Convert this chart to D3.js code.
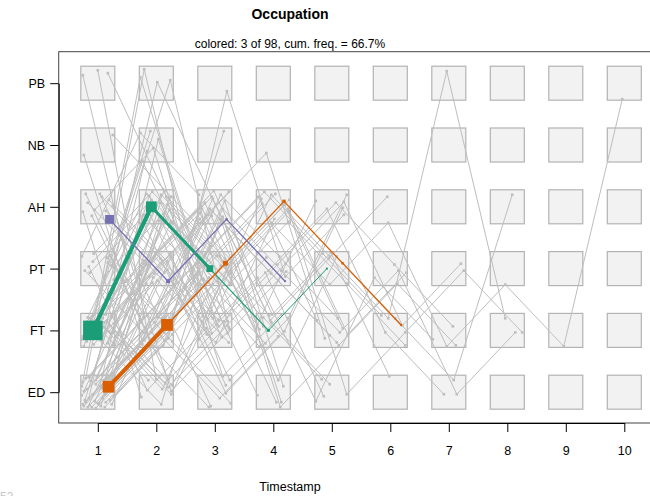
<!DOCTYPE html>
<html>
<head>
<meta charset="utf-8">
<script src="https://cdn.jsdelivr.net/npm/d3@7"></script>
<style>
  body { margin: 0; background: #fff; }
  svg { font-family: "Liberation Sans", Arial, sans-serif; }
</style>
</head>
<body>
<div id="chart"></div>
<script>
    // states, bottom to top
    var states = ["ED", "FT", "PT", "AH", "NB", "PB"];
    var codes = {E: "ED", F: "FT", P: "PT", A: "AH", N: "NB", B: "PB"};
    var timestamps = [1, 2, 3, 4, 5, 6, 7, 8, 9, 10];

    // gray sequences (one letter per event) and their offset inside the box (-1..1)
    var grayPaths = ["EF","EFP","EP","EFA","EFPF","EA","EFE","EPF","EFPA","EAP",
        "EFPAF","EN","EBF","EFAPF","EPA","EFAE","EAF","EFPE","EPFA","EFN",
        "EAFP","EFPAFP","EFAFE","EPAF","EFEF","EAPAF","EFPAPF","EPEFA","EFAPAFE","ENF",
        "EFBPA","EPAFPE","EFAEFPF","EBPFA","EAFPAPF","EFPAPAFPFB","EPFAPFBF","FAPEPFEA","EFAPFPEF","FEPAEFPF",
        "FP","FA","FE","FPA","FAP","FEP","FPE","FAFP","FPAF","FEF",
        "FN","FBA","FPFA","FAPE","FEPA","FPAPF","FAEF","FNPF","FPEFA","FAPFE",
        "FEAPF","FPANF","FAPAPF","FPAFPA","FEFPAFP","FAFPEPF","PF","PA","PE","PFA",
        "PAF","PEF","PFE","PAPF","PFAE","PNA","PBF","PAFPE","AF","AP",
        "AE","APF","AFP","AEF","APAF","AFPA","APE","ANF","NF","NAP",
        "BF","BE","BAP","EF","FP"];
    var grayOffX = [-0.82,-0.71,-0.59,-0.88,-0.47,-0.76,-0.35,0.82,-0.65,0.18,
        -0.88,-0.53,-0.71,0.35,-0.18,0.47,0.76,-0.94,0.06,0.53,
        -0.41,0.94,-0.12,-0.82,0.29,0.65,-0.53,0.88,-0.29,0.12,
        0.71,-0.06,0.41,-0.94,0.24,-0.12,-0.12,0.29,0.47,0.88,
        -0.76,0.59,-0.47,0.82,-0.65,0.35,-0.24,0.76,-0.88,0.53,
        -0.35,0.06,-0.71,0.18,0.94,-0.12,0.47,-0.82,0.65,-0.59,
        0.29,-0.41,0.88,-0.18,0.71,-0.94,0.53,-0.29,0.71,-0.76,
        0.41,-0.53,0.94,-0.24,0.59,-0.94,0.82,-0.47,-0.71,0.47,
        -0.88,0.24,-0.35,0.88,-0.59,0.12,0.65,-0.18,-0.82,0.88,
        -0.88,0.0,0.59,0.0,0.35];
    var grayOffY = [0.82,0.59,0.88,0.71,0.76,0.47,0.88,0.71,-0.18,0.82,
        -0.59,0.35,-0.82,-0.71,0.53,0.59,-0.53,0.18,0.71,-0.82,
        -0.65,0.24,-0.47,-0.06,0.35,-0.12,-0.88,-0.71,0.12,-0.35,
        0.47,-0.94,0.88,-0.35,-0.24,0.94,-0.71,-0.71,0.12,0.12,
        -0.29,0.76,-0.71,-0.88,0.65,-0.18,0.82,0.18,0.35,-0.53,
        -0.82,-0.06,-0.47,0.59,-0.41,0.29,-0.94,0.94,0.06,-0.76,
        0.71,0.47,0.88,-0.59,-0.29,0.53,-0.65,-0.41,-0.76,0.12,
        0.41,-0.12,0.65,-0.88,-0.35,-0.71,-0.18,0.24,-0.76,0.24,
        0.29,-0.59,0.53,-0.06,-0.24,-0.76,-0.41,0.18,0.59,-0.59,
        -0.47,-0.76,-0.59,0.65,-0.47];

    // colored sequences
    var colPaths = ["FAPFP", "EFPAPF", "APAP"];
    var colColors = ["#1b9e77", "#d95f02", "#7570b3"];
    var colOffX = [-0.29, 0.63, 0.69];
    var colOffY = [0.0, -0.32, 0.74];
    var colPointFreq = [[40, 22, 14, 6, 4], [24, 24, 10, 7, 5, 4], [18, 8, 5, 4]];
    var colSegFreq = [[42, 30, 12, 10], [40, 15, 13, 13, 13], [13, 13, 13]];

    var width = 650, height = 496;
    var svg = d3.select("#chart").append("svg")
        .attr("width", width).attr("height", height);

    var x = d3.scaleLinear().domain([1, 10]).range([97.8, 624.3]);
    var y = d3.scalePoint().domain(states).range([392.2, 83.2]);
    var half = 17;
    var ptSize = d3.scaleLinear().domain([0, 50]).range([0, 24.5]);
    var segW = d3.scaleLinear().domain([0, 50]).range([0, 5]);

    function toPoints(path, ox, oy) {
      return path.split("").map(function(c, i) {
        return [x(timestamps[i]) + ox * half, y(codes[c]) + oy * half];
      });
    }

    // frame
    svg.append("rect")
        .attr("x", 58.7).attr("y", 51.7)
        .attr("width", 600).attr("height", 423 - 51.7)
        .attr("fill", "none").attr("stroke", "#444").attr("stroke-width", 1);

    // state boxes
    var cells = [];
    timestamps.forEach(function(t) { states.forEach(function(s) { cells.push([t, s]); }); });
    svg.append("g").selectAll("rect").data(cells).enter().append("rect")
        .attr("x", function(d) { return x(d[0]) - half; })
        .attr("y", function(d) { return y(d[1]) - half; })
        .attr("width", 2 * half).attr("height", 2 * half)
        .attr("fill", "#f2f2f2").attr("stroke", "#b3b3b3").attr("stroke-width", 1.2);

    var line = d3.line();

    // gray sequences
    var gray = svg.append("g");
    grayPaths.forEach(function(p, k) {
      var pts = toPoints(p, grayOffX[k], grayOffY[k]);
      gray.append("path").attr("d", line(pts))
          .attr("fill", "none").attr("stroke", "#bebebe").attr("stroke-width", 1);
      gray.selectAll(null).data(pts).enter().append("rect")
          .attr("x", function(d) { return d[0] - 1.3; })
          .attr("y", function(d) { return d[1] - 1.3; })
          .attr("width", 2.6).attr("height", 2.6)
          .attr("fill", "#bebebe");
    });

    // colored sequences
    var col = svg.append("g");
    colPaths.forEach(function(p, k) {
      var pts = toPoints(p, colOffX[k], colOffY[k]);
      for (var i = 0; i < pts.length - 1; i++) {
        col.append("path").attr("d", line([pts[i], pts[i + 1]]))
            .attr("fill", "none").attr("stroke", colColors[k])
            .attr("stroke-width", segW(colSegFreq[k][i]));
      }
      col.selectAll(null).data(pts).enter().append("rect")
          .attr("x", function(d, i) { return d[0] - ptSize(colPointFreq[k][i]) / 2; })
          .attr("y", function(d, i) { return d[1] - ptSize(colPointFreq[k][i]) / 2; })
          .attr("width", function(d, i) { return ptSize(colPointFreq[k][i]); })
          .attr("height", function(d, i) { return ptSize(colPointFreq[k][i]); })
          .attr("fill", colColors[k]);
    });

    // axes
    var yAxis = svg.append("g").attr("transform", "translate(58.7,0)")
        .call(d3.axisLeft(y).tickSize(8.5).tickSizeOuter(0).tickPadding(5));
    var xAxis = svg.append("g").attr("transform", "translate(0,423)")
        .call(d3.axisBottom(x).tickValues(timestamps).tickFormat(d3.format("d"))
              .tickSize(9).tickSizeOuter(0).tickPadding(14));
    [yAxis, xAxis].forEach(function(a) {
      a.selectAll("text").attr("font-size", 12.5).attr("fill", "#000")
          .attr("font-family", "Liberation Sans, Arial, sans-serif");
      a.selectAll("line, path").attr("stroke", "#000");
    });
    yAxis.selectAll("text").attr("dy", "0.36em");

    // titles
    svg.append("text").attr("x", 290).attr("y", 19).attr("text-anchor", "middle")
        .attr("font-size", 14).attr("font-weight", "bold").text("Occupation");
    svg.append("text").attr("x", 290).attr("y", 47.5).attr("text-anchor", "middle")
        .attr("font-size", 12).text("colored: 3 of 98, cum. freq. = 66.7%");
    svg.append("text").attr("x", 290).attr("y", 491).attr("text-anchor", "middle")
        .attr("font-size", 12.5).text("Timestamp");
    svg.append("text").attr("x", 0).attr("y", 501)
        .attr("font-size", 12).attr("fill", "#c8c8c8").text("53");
</script>
</body>
</html>
